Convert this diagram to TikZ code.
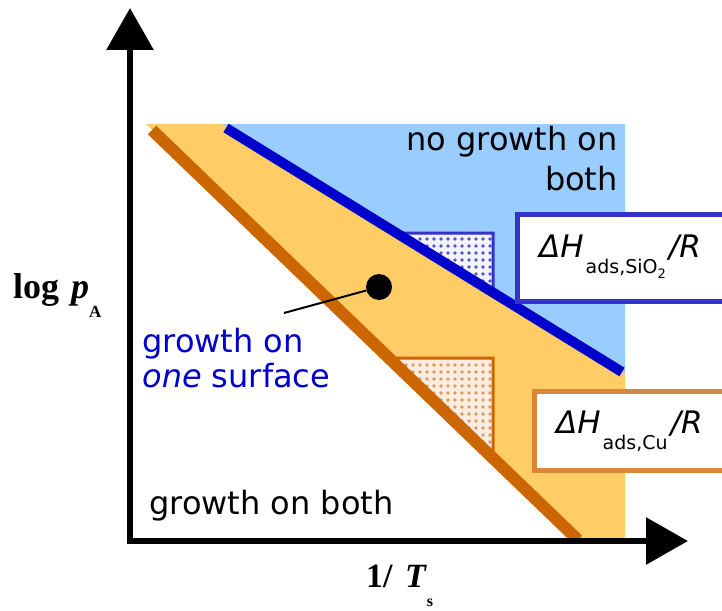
\documentclass[tikz,border=0pt]{standalone}
\usepackage{fontspec}
\setmainfont{DejaVu Sans}
\newfontfamily\axisfont{Liberation Serif}
\usetikzlibrary{arrows.meta,patterns.meta,positioning}
\definecolor{skyblue}{HTML}{99CCFF}
\definecolor{paleorange}{HTML}{FFCC66}
\definecolor{deepblue}{HTML}{0000CC}
\definecolor{rust}{HTML}{CC6600}
\definecolor{boxblue}{HTML}{3333CC}
\definecolor{boxorange}{HTML}{D9883A}
\tikzset{
    axis/.style = {line width=6pt, -{Triangle[length=42pt,width=46pt]}},
    blue line/.style = {draw=deepblue, line width=10pt},
    orange line/.style = {draw=rust, line width=12pt},
    blue wedge/.style = {draw=boxblue, line width=3pt, preaction={fill=boxblue!6},
        pattern={Dots[distance=7pt,radius=1.8pt]}, pattern color=boxblue!85},
    orange wedge/.style = {draw=rust, line width=3pt, preaction={fill=boxorange!15},
        pattern={Dots[distance=7pt,radius=1.8pt]}, pattern color=boxorange!85},
    big text/.style = {inner sep=0, font=\fontsize{32}{40}\selectfont},
    delta text/.style = {inner sep=0, font=\fontsize{31}{34}\selectfont},
    label box/.style = {draw, fill=white, line width=5pt, inner sep=0, anchor=north west},
    dot/.style = {circle, fill=black, minimum size=26pt, inner sep=0}
}
\newcommand{\subtxt}[1]{\raisebox{-16pt}{\fontsize{19}{19}\selectfont #1}}

\begin{document}
\begin{tikzpicture}[x=1pt,y=-1pt,>=latex]
    \useasboundingbox (0,0) rectangle (722,610);
    % regions
    \fill[paleorange] (146,124) -- (625,124) -- (625,541) -- (578,541) -- cycle;
    \fill[skyblue] (222,124) -- (625,124) -- (625,374) -- cycle;
    \draw[blue wedge] (398,233) -- (493,233) -- (493,291) -- cycle;
    \draw[orange wedge] (389,358) -- (493,358) -- (493,458) -- cycle;
    \draw[blue line] (226,128) -- (622,372);
    \draw[orange line] (152,130) -- (578,540);

    % axes
    \coordinate (origin) at (127,541);
    \coordinate (ybase) at (130,544);
    \coordinate (ytip) at (130,8);
    \coordinate (xtip) at (688,541);
    \draw[axis] (ybase) -- (ytip);
    \draw[axis] (origin) -- (xtip);
    \node[inner sep=0, anchor=base west, font=\axisfont\fontsize{36}{36}\selectfont] (ylabel) at (13,298)
        {\textbf{log}\hspace{12pt}\textbf{\textit{p}}\raisebox{-19pt}{\fontsize{17}{17}\selectfont\textbf{A}}};
    \node[inner sep=0, anchor=base west, font=\axisfont\fontsize{34}{34}\selectfont] (xlabel) at (366,587)
        {\textbf{1/}\hspace{12pt}\textbf{\textit{T}}\raisebox{-19pt}{\fontsize{16}{16}\selectfont\textbf{s}}};

    % region labels
    \node[big text, align=right, anchor=north east] (nogrowth) at (618,126) {no growth on\\both};
    \node[big text, align=left, anchor=north west, text=deepblue, font=\fontsize{32}{35}\selectfont]
        (onegrowth) at (142,328) {growth on\\\textit{one} surface};
    \node[big text, anchor=base west] (bothgrowth) at (149,514) {growth on both};

    \node[dot] (point) at (379,287) {};
    \coordinate (pointer) at (284,313);
    \draw[line width=2pt] (pointer) -- (point);

    % enthalpy boxes
    \node[label box, draw=boxblue, minimum width=240pt, minimum height=87pt] (sio2box) at (515,212) {};
    \node[delta text, anchor=base west] (sio2label) at ([xshift=24pt,yshift=-45pt]sio2box.north west)
        {\itshape ΔH\hspace{2pt}\subtxt{\upshape ads,SiO\raisebox{-5pt}{\fontsize{13}{13}\selectfont 2}}\hspace{3pt}/R};
    \node[label box, draw=boxorange, minimum width=220pt, minimum height=79pt] (cubox) at (532,389) {};
    \node[delta text, anchor=base west] (culabel) at ([xshift=24pt,yshift=-44pt]cubox.north west)
        {\itshape ΔH\hspace{2pt}\subtxt{\upshape ads,Cu}\hspace{3pt}/R};
\end{tikzpicture}
\end{document}
